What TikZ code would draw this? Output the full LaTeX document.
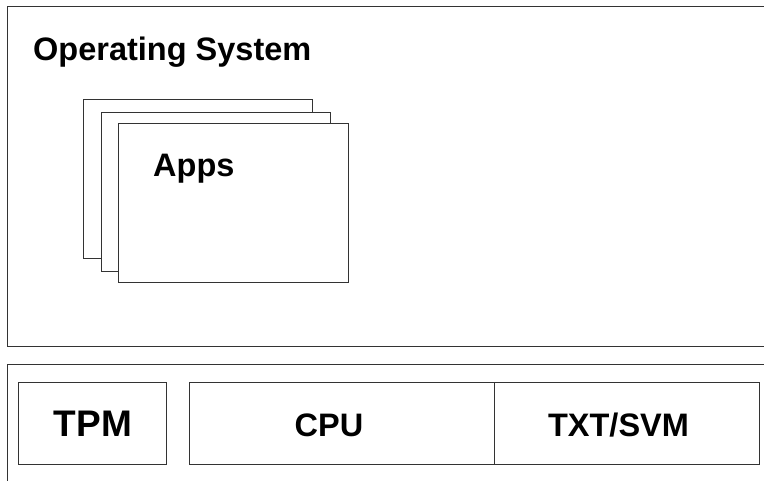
\documentclass[tikz,border=0pt]{standalone}
\usepackage{fontspec}
\setmainfont{Liberation Sans}
\begin{document}
\begin{tikzpicture}[x=1pt,y=-1pt,
  box/.style={draw=black!80,line width=1pt,fill=white,inner sep=0pt,outer sep=0pt,anchor=north west},
  lbl/.style={font=\bfseries\fontsize{32.5}{36}\selectfont,inner sep=0pt,anchor=base west},
  lblc/.style={font=\bfseries\fontsize{32.5}{36}\selectfont,inner sep=0pt,anchor=base}]
\useasboundingbox (0,0) rectangle (764,480);
\clip (0,0) rectangle (764,480);
% Operating system layer
\node[box,minimum width=780pt,minimum height=340pt] (os) at (7,6.5) {};
\node[lbl] (ostext) at (33,60) {Operating System};
% apps stack
\node[box,minimum width=229pt,minimum height=159pt] (app1) at (83,99) {};
\node[box,minimum width=229pt,minimum height=159pt] (app2) at (101,112) {};
\node[box,minimum width=230pt,minimum height=159pt] (app3) at (118,123) {};
\node[lbl] (appstext) at (153,176) {Apps};
% hardware layer
\node[box,minimum width=780pt,minimum height=140pt] (hw) at (7,364) {};
\node[box,minimum width=148pt,minimum height=82pt] (tpm) at (18,382) {};
\node[lblc,font=\bfseries\fontsize{37}{40}\selectfont] (tpmtext) at (93,436) {TPM};
\node[box,minimum width=305pt,minimum height=82pt] (cpu) at (189,382) {};
\node[box,minimum width=265pt,minimum height=82pt] (txt) at (494,382) {};
\node[lblc] (cputext) at (329,436) {CPU};
\node[lblc] (txttext) at (618.5,436) {TXT/SVM};
\end{tikzpicture}
\end{document}
